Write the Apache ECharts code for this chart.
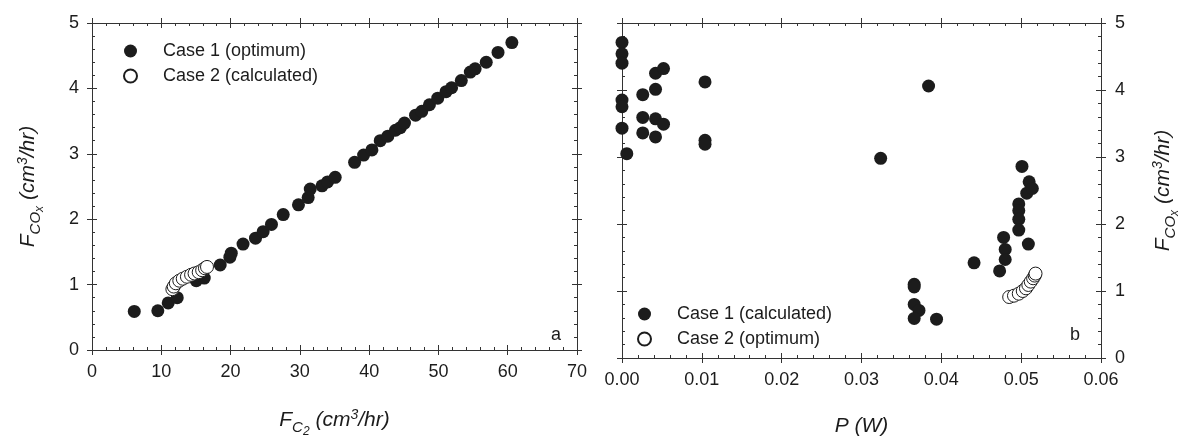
<!DOCTYPE html>
<html><head><meta charset="utf-8">
<script src="https://cdn.jsdelivr.net/npm/echarts@6/dist/echarts.min.js"></script>
<style>html,body{margin:0;padding:0;background:#fff}#c{width:1182px;height:443px}</style>
</head><body><div id="c"></div>
<script>
// ---- data ----
const leftCase1X = [6.1, 9.5, 11.0, 12.3, 15.05, 16.2, 18.5, 19.9, 20.1, 21.8, 23.6, 24.7, 25.9, 27.6, 29.8, 31.2, 31.5, 33.2, 34.0, 35.1, 37.9, 39.2, 40.4, 41.6, 42.7, 43.8, 44.5, 45.1, 46.7, 47.6, 48.7, 49.9, 51.1, 51.9, 53.3, 54.6, 55.3, 56.9, 58.6, 60.6];
const leftCase1Y = [0.59, 0.60, 0.72, 0.80, 1.06, 1.10, 1.30, 1.42, 1.48, 1.62, 1.71, 1.81, 1.92, 2.07, 2.22, 2.33, 2.46, 2.51, 2.57, 2.64, 2.87, 2.98, 3.06, 3.20, 3.27, 3.36, 3.40, 3.47, 3.59, 3.65, 3.75, 3.85, 3.95, 4.01, 4.12, 4.25, 4.30, 4.40, 4.55, 4.70];
const leftCase2X = [11.6, 11.8, 12.1, 12.6, 13.1, 13.7, 14.3, 14.8, 15.4, 15.9, 16.3, 16.6];
const leftCase2Y = [0.93, 0.97, 1.02, 1.06, 1.09, 1.12, 1.15, 1.17, 1.19, 1.22, 1.25, 1.27];
const rightCase1P = [0, 0, 0, 0, 0, 0, 0.0006, 0.0026, 0.0026, 0.0026, 0.0042, 0.0052, 0.0042, 0.0042, 0.0052, 0.0042, 0.0104, 0.0104, 0.0104, 0.0324, 0.0384, 0.0366, 0.0366, 0.0366, 0.0372, 0.0366, 0.0394, 0.0441, 0.0473, 0.0478, 0.0480, 0.0480, 0.0497, 0.0497, 0.0497, 0.0497, 0.0501, 0.0507, 0.0510, 0.0514, 0.0509];
const rightCase1F = [4.71, 4.54, 4.40, 3.85, 3.75, 3.43, 3.05, 3.93, 3.59, 3.36, 4.25, 4.32, 4.01, 3.57, 3.49, 3.30, 4.12, 3.25, 3.19, 2.98, 4.06, 1.10, 1.06, 0.80, 0.71, 0.59, 0.58, 1.42, 1.30, 1.80, 1.62, 1.47, 2.30, 2.20, 2.07, 1.91, 2.86, 2.46, 2.63, 2.53, 1.70];
const rightCase2P = [0.0485, 0.0491, 0.0497, 0.0502, 0.0506, 0.0509, 0.0512, 0.0515, 0.0517, 0.0518];
const rightCase2F = [0.91, 0.93, 0.96, 1.00, 1.04, 1.09, 1.14, 1.19, 1.23, 1.26];
const leftNames = ['Case 1 (optimum)', 'Case 2 (calculated)'];
const rightNames = ['Case 1 (calculated)', 'Case 2 (optimum)'];
const leftXRange = [0, 70, 10];
const rightXRange = [0, 0.06, 0.01];
const yRange = [0, 5, 1];

const zip = (a, b) => a.map((v, i) => [v, b[i]]);
const FONT = 'Liberation Sans, Arial, sans-serif';
const INK = '#1c1c1c';
const AX = '#333';

const titleRich = {
  m: {fontSize: 21, fontStyle: 'italic', fontFamily: FONT, color: INK, lineHeight: 36, verticalAlign: 'middle'},
  s: {fontSize: 15, fontStyle: 'italic', fontFamily: FONT, color: INK, lineHeight: 16, verticalAlign: 'bottom', padding: [0, 0, 3, 0]},
  ss: {fontSize: 12, fontStyle: 'italic', fontFamily: FONT, color: INK, lineHeight: 12, verticalAlign: 'bottom', padding: [0, 0, 0, 0]},
  sup: {fontSize: 14, fontStyle: 'italic', fontFamily: FONT, color: INK, lineHeight: 14, verticalAlign: 'top', padding: [6, 0, 0, 0]}
};

// build a set of axes for one side: labelled/outer-tick axis + inner-tick axis with minor ticks
function axes(grid, pos, range, opts) {
  const base = {
    type: 'value', gridIndex: grid, position: pos, min: range[0], max: range[1], interval: range[2],
    splitLine: {show: false},
    axisLine: {show: true, onZero: false, lineStyle: {color: AX, width: 1}}
  };
  const outer = Object.assign({}, base, {
    axisTick: {show: true, inside: false, length: 5, lineStyle: {color: AX}},
    axisLabel: Object.assign({show: !!opts.label, fontSize: 18, fontFamily: FONT, color: INK, margin: opts.margin || 10}, opts.formatter ? {formatter: opts.formatter} : {})
  }, opts.extra || {});
  const inner = Object.assign({}, base, {
    axisTick: {show: true, inside: true, length: 5, lineStyle: {color: AX}},
    minorTick: {show: true, splitNumber: 5, length: 3, lineStyle: {color: AX}},
    axisLabel: {show: false}
  });
  return [outer, inner];
}

const xAxes = [].concat(
  axes(0, 'bottom', leftXRange, {label: true, margin: 13, extra: {
    name: '{m|F}{s|C}{ss|2}{m| (cm}{sup|3}{m|/hr)}', nameLocation: 'middle', nameGap: 52,
    nameTextStyle: {rich: titleRich}}}),
  axes(0, 'top', leftXRange, {}),
  axes(1, 'bottom', rightXRange, {label: true, margin: 13, formatter: v => v.toFixed(2), extra: {
    name: '{m|P (W)}', nameLocation: 'middle', nameGap: 50, nameTextStyle: {rich: titleRich}}}),
  axes(1, 'top', rightXRange, {})
);
const yAxes = [].concat(
  axes(0, 'left', yRange, {label: true, margin: 13, extra: {
    name: '{m|F}{s|CO}{ss|x}{m| (cm}{sup|3}{m|/hr)}', nameLocation: 'middle', nameGap: 46, nameRotate: 90,
    nameTextStyle: {rich: titleRich}}}),
  axes(0, 'right', yRange, {}),
  axes(1, 'left', yRange, {}),
  axes(1, 'right', yRange, {label: true, margin: 14, extra: {
    name: '{m|F}{s|CO}{ss|x}{m| (cm}{sup|3}{m|/hr)}', nameLocation: 'middle', nameGap: 44, nameRotate: 90,
    nameTextStyle: {rich: titleRich}}})
);

const filled = {color: INK, borderWidth: 0, opacity: 1};
const open = {color: '#fff', borderColor: INK, borderWidth: 1, opacity: 1};

const chart = echarts.init(document.getElementById('c'), null, {renderer: 'canvas'});
chart.setOption({
  animation: false,
  backgroundColor: '#fff',
  textStyle: {fontFamily: FONT},
  grid: [
    {left: 92, top: 23, width: 485, height: 335},
    {left: 622, top: 23, width: 485, height: 335}
  ],
  xAxis: xAxes,
  yAxis: yAxes,
  legend: [
    {data: leftNames, orient: 'vertical', left: 118, top: 36, icon: 'circle', itemWidth: 13, itemHeight: 13, itemGap: 5,
      textStyle: {fontSize: 18, fontFamily: FONT, color: INK, lineHeight: 20, padding: [0, 0, 0, 21]}},
    {data: rightNames, orient: 'vertical', left: 632, top: 299, icon: 'circle', itemWidth: 13, itemHeight: 13, itemGap: 5,
      textStyle: {fontSize: 18, fontFamily: FONT, color: INK, lineHeight: 20, padding: [0, 0, 0, 21]}}
  ],
  graphic: [
    {type: 'text', left: 551, top: 326, style: {text: 'a', font: '18px ' + FONT, fill: INK}},
    {type: 'text', left: 1070, top: 326, style: {text: 'b', font: '18px ' + FONT, fill: INK}}
  ],
  series: [
    {name: leftNames[0], type: 'scatter', xAxisIndex: 0, yAxisIndex: 0, symbol: 'circle', symbolSize: 13, itemStyle: filled, data: zip(leftCase1X, leftCase1Y)},
    {name: leftNames[1], type: 'scatter', xAxisIndex: 0, yAxisIndex: 0, symbol: 'circle', symbolSize: 13, itemStyle: open, data: zip(leftCase2X, leftCase2Y)},
    {name: rightNames[0], type: 'scatter', xAxisIndex: 4, yAxisIndex: 4, symbol: 'circle', symbolSize: 13, itemStyle: filled, data: zip(rightCase1P, rightCase1F)},
    {name: rightNames[1], type: 'scatter', xAxisIndex: 4, yAxisIndex: 4, symbol: 'circle', symbolSize: 13, itemStyle: open, data: zip(rightCase2P, rightCase2F)}
  ]
});
</script></body></html>
